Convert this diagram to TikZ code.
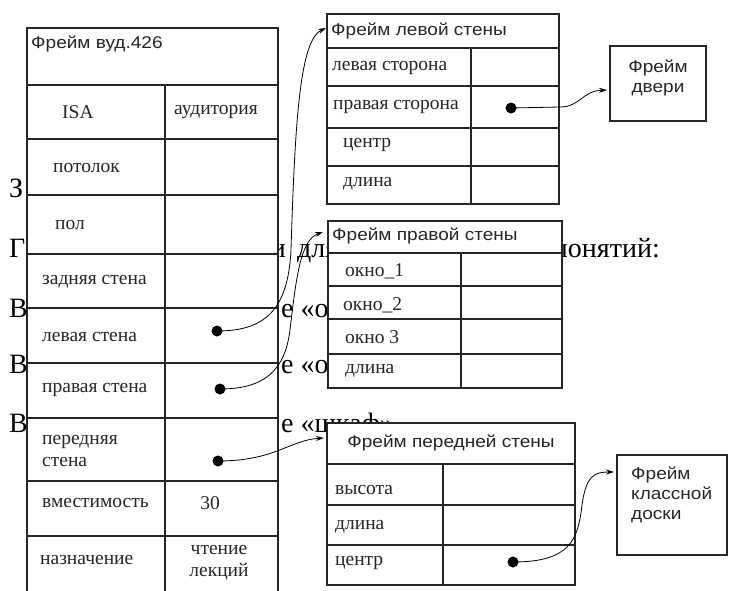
\documentclass[tikz,border=0pt]{standalone}
\usepackage{fontspec}
\setmainfont{Liberation Serif}
\newfontfamily\titlefont[FakeStretch=1.12]{Liberation Sans}
\usetikzlibrary{arrows.meta}
\begin{document}
\begin{tikzpicture}[x=1pt,y=-1pt,
  gline/.style={draw=black!85, line width=1.3pt},
  frm/.style={gline, fill=white},
  ttl/.style={font=\titlefont\fontsize{17}{20}\selectfont, text=black!85, inner sep=0pt},
  lbl/.style={font=\fontsize{19.5}{21.5}\selectfont, text=black!85, inner sep=0pt},
  bigtxt/.style={font=\fontsize{28}{30}\selectfont, inner sep=0pt, anchor=base west},
  dotnode/.style={circle, fill=black, inner sep=0pt, minimum size=11pt},
  link/.style={draw=black, line width=0.8pt, -{Stealth[length=8pt,width=5pt]}},
]
\clip (0,0) rectangle (729,590);
\fill[white] (0,0) rectangle (729,590);

% background slide text (partly covered by the frames)
\node[bigtxt] (s1) at (9,197) {З};
\node[bigtxt] (s2) at (9,257) {Г};
\node[bigtxt, anchor=base east] (s2a) at (286,257) {и};
\node[bigtxt] (s2b) at (297,257) {для};
\node[bigtxt, anchor=base east] (s2c) at (660,257) {понятий:};
\node[bigtxt] (s3) at (9,317) {В};
\node[bigtxt] (s3b) at (281,317) {е «о};
\node[bigtxt] (s4) at (9,373) {В};
\node[bigtxt] (s4b) at (281,373) {е «о};
\node[bigtxt] (s5) at (9,432) {В};
\node[bigtxt] (s5b) at (281,432) {е «шкаф»};

% main frame
\draw[frm] (27,28) rectangle (278,598);
\draw[gline] (27,85) -- (278,85);
\draw[gline] (165,85) -- (165,598);
\foreach \yy in {139,195,254,308,363,418,481,536}
  \draw[gline] (27,\yy) -- (278,\yy);
\node[ttl, anchor=west] (mt) at (31,44) {Фрейм вуд.426};
\node[lbl, anchor=west] (m1) at (62,112) {ISA};
\node[lbl] (m1v) at (216,112) {аудитория};
\node[lbl, anchor=west] (m2) at (53,168) {потолок};
\node[lbl, anchor=west] (m3) at (55,225) {пол};
\node[lbl, anchor=west] (m4) at (42,282) {задняя стена};
\node[lbl, anchor=west] (m5) at (42,337) {левая стена};
\node[lbl, anchor=west] (m6) at (42,390) {правая стена};
\node[lbl, anchor=west, align=left] (m7) at (42,451) {передняя\\стена};
\node[lbl, anchor=west] (m8) at (42,503) {вместимость};
\node[lbl] (m8v) at (210,503) {30};
\node[lbl, anchor=west] (m9) at (40,560) {назначение};
\node[lbl, align=center] (m9v) at (219,563) {чтение\\лекций};

% frame of the left wall
\draw[frm] (327,14) rectangle (559,204);
\draw[gline] (327,48) -- (559,48);
\draw[gline] (471,48) -- (471,204);
\foreach \yy in {86,128,166}
  \draw[gline] (327,\yy) -- (559,\yy);
\node[ttl, anchor=west] (lt) at (331,31) {Фрейм левой стены};
\node[lbl, anchor=west] (l1) at (332,68) {левая сторона};
\node[lbl, anchor=west] (l2) at (333,107) {правая сторона};
\node[lbl, anchor=west] (l3) at (343,145) {центр};
\node[lbl, anchor=west] (l4) at (343,184) {длина};

% door frame
\draw[frm] (610,46) rectangle (706,121);
\node[ttl, align=center] (door) at (658,78) {Фрейм\\двери};

% frame of the right wall
\draw[frm] (328,221) rectangle (562,388);
\draw[gline] (328,253) -- (562,253);
\draw[gline] (461,253) -- (461,388);
\foreach \yy in {286,319,354}
  \draw[gline] (328,\yy) -- (562,\yy);
\node[ttl, anchor=west] (rt) at (332,236) {Фрейм правой стены};
\node[lbl, anchor=west] (r1) at (345,271) {окно\_1};
\node[lbl, anchor=west] (r2) at (343,305) {окно\_2};
\node[lbl, anchor=west] (r3) at (345,337) {окно 3};
\node[lbl, anchor=west] (r4) at (345,371) {длина};

% frame of the front wall
\draw[frm] (327,423) rectangle (575,585);
\draw[gline] (327,464) -- (575,464);
\draw[gline] (443,464) -- (443,585);
\foreach \yy in {505,545}
  \draw[gline] (327,\yy) -- (575,\yy);
\node[ttl] (ft) at (451,443) {Фрейм передней стены};
\node[lbl, anchor=west] (f1) at (335,490) {высота};
\node[lbl, anchor=west] (f2) at (335,527) {длина};
\node[lbl, anchor=west] (f3) at (335,563) {центр};

% blackboard frame
\draw[frm] (617,455) rectangle (727,555);
\node[ttl, anchor=west, align=left] (board) at (631,495) {Фрейм\\классной\\доски};

% slot values (dots) and connector ends
\node[dotnode] (d1) at (217,331) {};
\node[dotnode] (d2) at (220,389) {};
\node[dotnode] (d3) at (218,461) {};
\node[dotnode] (d4) at (511,108) {};
\node[dotnode] (d5) at (513,562) {};
\coordinate (t1) at (326,28);
\coordinate (t2) at (323,232);
\coordinate (t3) at (324,438);
\coordinate (t4) at (607,90);
\coordinate (t5) at (614,472);

\draw[link] (d1.center) .. controls (265,331) and (288,310) .. (291,250)
  .. controls (295,120) and (300,40) .. (t1);
\draw[link] (d2.center) .. controls (265,389) and (285,370) .. (290,330)
  .. controls (296,280) and (300,240) .. (t2);
\draw[link] (d3.center) .. controls (275,461) and (290,440) .. (t3);
\draw[link] (d4.center) -- (560,107) .. controls (580,107) and (582,91) .. (t4);
\draw[link] (d5.center) .. controls (570,562) and (578,540) .. (582,505)
  .. controls (586,475) and (595,472) .. (t5);
\end{tikzpicture}
\end{document}
